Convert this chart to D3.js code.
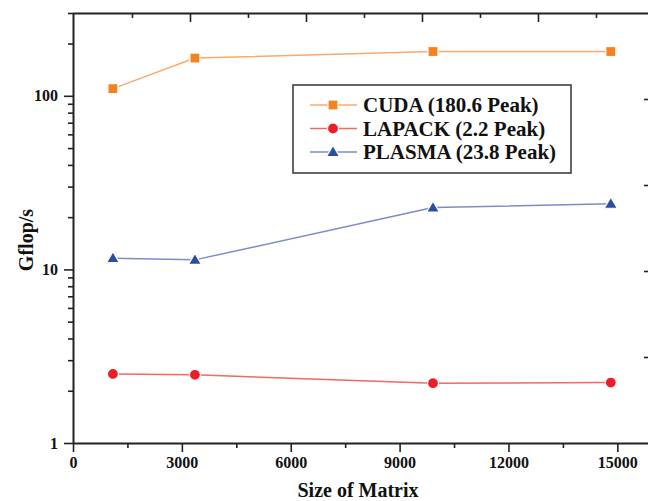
<!DOCTYPE html>
<html>
<head>
<meta charset="utf-8">
<script src="https://cdn.jsdelivr.net/npm/d3@7"></script>
<style>
	body { margin: 0; background: #fff; }
	svg { display: block; }
	text { font-family: "Liberation Serif", "Times New Roman", serif; font-weight: bold; fill: #111; }
	.axis path, .axis line { stroke: #222; }
	.axis path { stroke-width: 2px; }
	.axis line { stroke-width: 1.6px; }
</style>
</head>
<body>
<div id="plot"></div>
<script>
//Data
const matrixSizes = [1100, 3360, 9920, 14820];
const cudaValues = [110, 165, 180, 180];
const lapackValues = [2.5, 2.47, 2.21, 2.23];
const plasmaValues = [11.6, 11.35, 22.7, 23.9];

const seriesNames = ['CUDA (180.6 Peak)', 'LAPACK (2.2 Peak)', 'PLASMA (23.8 Peak)'];
const xTicks = [0, 3000, 6000, 9000, 12000, 15000];
const yTicks = [1, 10, 100];

const series = [
	{name: seriesNames[0], values: cudaValues, marker: 'square', fill: '#f5821f', line: '#f8ab70'},
	{name: seriesNames[1], values: lapackValues, marker: 'circle', fill: '#ee1c25', line: '#f06a60'},
	{name: seriesNames[2], values: plasmaValues, marker: 'triangle', fill: '#2b4ea2', line: '#7d8cc8'}
];

//Prepare DOM canvas
const w = 648;
const h = 501;
const svg = d3.select('#plot').append('svg').attr('width', w).attr('height', h);

const mLeft = 73, mRight = 650, mTop = 13, mBottom = 443;

//Scales
const x = d3.scaleLinear().domain([0, 15900]).range([mLeft, mRight]);
const y = d3.scaleLog().domain([1, 300]).range([mBottom, mTop]);
//secondary axes on top and right (unlabelled in the picture)
const xTop = d3.scaleLinear().domain([0, 10]).range([mLeft + 1, mLeft + 581]);
const yRight = d3.scaleLinear().domain([0, 5]).range([mBottom, mTop]);

//Minor ticks
const yMinor = [];
[1, 10, 100].forEach(d => {
	for(let i = 2; i <= 9; i++){
		if(d*i <= 300) yMinor.push(d*i);
	}
});
const xMinor = d3.range(1500, 15900, 3000);

//Bottom axis
svg.append('g').attr('class','axis')
	.attr('transform', `translate(0,${mBottom})`)
	.call(d3.axisBottom(x).tickValues(xMinor).tickSize(5).tickFormat(''))
	.select('.domain').remove();
svg.append('g').attr('class','axis x-axis')
	.attr('transform', `translate(0,${mBottom})`)
	.call(d3.axisBottom(x).tickValues(xTicks).tickSize(9).tickSizeOuter(0).tickPadding(5).tickFormat(d3.format('d')))
	.selectAll('text').style('font-size','16px');

//Left axis
svg.append('g').attr('class','axis')
	.attr('transform', `translate(${mLeft},0)`)
	.call(d3.axisLeft(y).tickValues(yMinor).tickSize(5).tickFormat(''))
	.select('.domain').remove();
svg.append('g').attr('class','axis y-axis')
	.attr('transform', `translate(${mLeft},0)`)
	.call(d3.axisLeft(y).tickValues(yTicks).tickSize(9).tickSizeOuter(0).tickPadding(6).tickFormat(d3.format('d')))
	.selectAll('text').style('font-size','16px');

//Top axis, ticks pointing inward
svg.append('g').attr('class','axis')
	.attr('transform', `translate(0,${mTop})`)
	.call(d3.axisBottom(xTop).tickValues(d3.range(1, 10)).tickSize(0).tickFormat(''))
	.call(g => g.select('.domain').attr('d', `M${mLeft},0.5H${w}`))
	.call(g => g.selectAll('.tick line').attr('y2', d => d % 2 ? 5 : 9));

//Right axis ticks, pointing inward
svg.append('g').attr('class','axis')
	.attr('transform', `translate(${mRight},0)`)
	.call(d3.axisLeft(yRight).tickValues([1, 2, 3, 4]).tickSize(6).tickFormat(''))
	.select('.domain').remove();

//Axis titles
svg.append('text')
	.attr('transform', 'translate(33,240) rotate(-90)')
	.attr('text-anchor','middle')
	.style('font-size','20px')
	.text('Gflop/s');
svg.append('text')
	.attr('x', 358).attr('y', 497)
	.attr('text-anchor','middle')
	.style('font-size','20px')
	.text('Size of Matrix');

//Marker drawing helper
function drawMarker(sel, type, color){
	if(type === 'square'){
		sel.append('rect').attr('x',-5).attr('y',-5).attr('width',10).attr('height',10);
	}else if(type === 'circle'){
		sel.append('circle').attr('r',5.5);
	}else{
		sel.append('path').attr('d','M0,-6.5L6.5,4.5L-6.5,4.5Z');
	}
	sel.selectAll('rect,circle,path')
		.style('fill', color)
		.style('stroke', '#fff')
		.style('stroke-width', '1.2px');
}

//Lines and markers
const line = d3.line()
	.x((d,i) => x(matrixSizes[i]))
	.y(d => y(d));

series.forEach(s => {
	svg.append('path')
		.datum(s.values)
		.attr('d', line)
		.style('fill','none')
		.style('stroke', s.line)
		.style('stroke-width','1.5px');

	const pts = svg.selectAll(null)
		.data(s.values)
		.enter()
		.append('g')
		.attr('transform', (d,i) => `translate(${x(matrixSizes[i])},${y(d)})`);
	pts.each(function(){ drawMarker(d3.select(this), s.marker, s.fill); });
});

//Legend
const legend = svg.append('g').attr('transform','translate(293,85)');
legend.append('rect')
	.attr('width', 278).attr('height', 88)
	.style('fill','#fff')
	.style('stroke','#333')
	.style('stroke-width','1.5px');

const rows = legend.selectAll('.row')
	.data(series)
	.enter()
	.append('g').attr('class','row')
	.attr('transform', (d,i) => `translate(0,${20 + i*23.5})`);
rows.append('line')
	.attr('x1', 17).attr('x2', 64)
	.style('stroke', d => d.line)
	.style('stroke-width','1.3px');
rows.append('g')
	.attr('transform','translate(40,0)')
	.each(function(d){ drawMarker(d3.select(this), d.marker, d.fill); });
rows.append('text')
	.attr('x', 70).attr('y', 7)
	.style('font-size','21px')
	.text(d => d.name);
</script>
</body>
</html>
